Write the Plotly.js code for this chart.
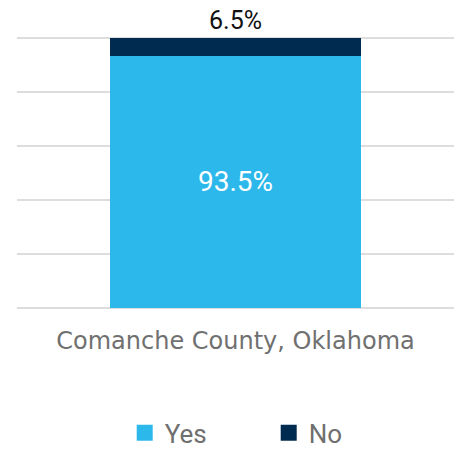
<!DOCTYPE html>
<html>
<head>
<meta charset="utf-8">
<script src="https://cdn.plot.ly/plotly-3.0.1.min.js"></script>
<style>html,body{margin:0;padding:0;background:#fff;}#chart{width:461px;height:449px;}</style>
</head>
<body>
<div id="chart"></div>
<script>
const categories = ["Comanche County, Oklahoma"];
const yesValues = [93.5];
const noValues = [6.5];
const seriesNames = ["Yes", "No"];
const seriesColors = ["#2DB8EB", "#002B51"];

const NUMFONT = "Roboto, 'Open Sans', sans-serif";
const CATFONT = "'DejaVu Sans', sans-serif";

const traces = [
  {
    type: "bar", name: seriesNames[0], x: categories, y: yesValues,
    marker: {color: seriesColors[0]}, width: 0.575, showlegend: false,
    texttemplate: "%{y:.1f}%", textposition: "inside",
    insidetextanchor: "middle",
    textfont: {color: "#FFFFFF", size: 28, family: NUMFONT},
    hoverinfo: "skip", cliponaxis: false
  },
  {
    type: "bar", name: seriesNames[1], x: categories, y: noValues,
    marker: {color: seriesColors[1]}, width: 0.575, showlegend: false,
    texttemplate: "%{y:.1f}%", textposition: "outside",
    textfont: {color: "#111111", size: 25, family: NUMFONT},
    outsidetextfont: {color: "#111111", size: 25, family: NUMFONT},
    hoverinfo: "skip", cliponaxis: false
  },
  // legend entries (square swatches)
  {
    type: "scatter", mode: "markers", name: seriesNames[0], x: [null], y: [null],
    marker: {symbol: "square", size: 16, color: seriesColors[0]}, showlegend: true, hoverinfo: "skip"
  },
  {
    type: "scatter", mode: "markers", name: seriesNames[1], x: [null], y: [null],
    marker: {symbol: "square", size: 16, color: seriesColors[1]}, showlegend: true, hoverinfo: "skip"
  }
];

const layout = {
  width: 461, height: 449,
  margin: {l: 17, r: 7, t: 37, b: 141},
  barmode: "stack",
  paper_bgcolor: "#FFFFFF", plot_bgcolor: "#FFFFFF",
  font: {family: NUMFONT, color: "#6F6F6F"},
  showlegend: true,
  legend: {
    orientation: "h", xref: "paper", yref: "container",
    x: 0.576, xanchor: "center", y: 0.036, yanchor: "middle",
    font: {size: 26, color: "#6F6F6F", family: NUMFONT},
    itemsizing: "trace", entrywidth: 99, entrywidthmode: "pixels",
    maxheight: 200,
    traceorder: "normal", itemclick: false, itemdoubleclick: false
  },
  xaxis: {
    type: "category", showgrid: false, zeroline: false, showline: false,
    ticks: "", tickfont: {size: 24, color: "#707070", family: CATFONT},
    ticklabelstandoff: 16, automargin: false, fixedrange: true
  },
  yaxis: {
    range: [0, 100.4], dtick: 20, tick0: 0, showticklabels: false, ticks: "",
    showgrid: true, gridcolor: "#DDDDDD", gridwidth: 2,
    zeroline: true, zerolinecolor: "#DDDDDD", zerolinewidth: 2,
    showline: false, automargin: false, fixedrange: true
  }
};

Plotly.newPlot("chart", traces, layout, {displayModeBar: false, staticPlot: true});
</script>
</body>
</html>
